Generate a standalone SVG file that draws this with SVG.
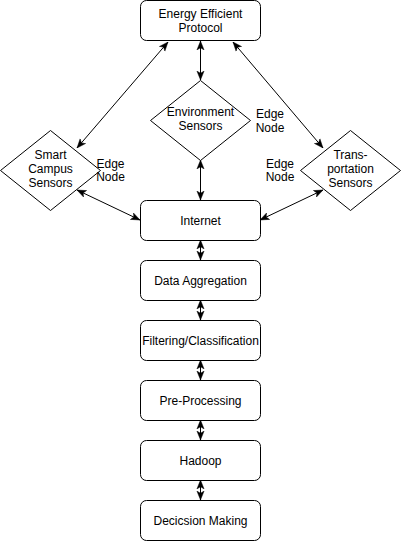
<svg xmlns="http://www.w3.org/2000/svg" width="401" height="541" viewBox="0 0 401 541">
<style>
.box{fill:#fff;stroke:#000;stroke-width:1}
.dia{fill:#fff;stroke:#000;stroke-width:1}
text{font-family:"Liberation Sans",Arial,sans-serif;font-size:12px;fill:#000;text-anchor:middle;dominant-baseline:central}
.edge{stroke:#000;stroke-width:1;fill:none;marker-start:url(#arr);marker-end:url(#arr)}
</style>
<defs>
<marker id="arr" viewBox="0 0 10 10" refX="10" refY="5" markerWidth="9" markerHeight="9" markerUnits="userSpaceOnUse" orient="auto-start-reverse">
<path d="M0,1 L10,5 L0,9 L2.5,5 z" fill="#000" stroke="#000" stroke-width="0.5"/>
</marker>
</defs>
<rect width="401" height="541" fill="#fff"/>
<g id="connectors">
<path class="edge" d="M200.5,41 L200.5,80"/>
<path class="edge" d="M168,42 L77,148"/>
<path class="edge" d="M233,42 L323,148"/>
<path class="edge" d="M200.5,160 L200.5,200"/>
<path class="edge" d="M77,190 L140,220"/>
<path class="edge" d="M323,190 L260,220"/>
<path class="edge" d="M200.5,240 L200.5,260"/>
<path class="edge" d="M200.5,300 L200.5,320"/>
<path class="edge" d="M200.5,360 L200.5,380"/>
<path class="edge" d="M200.5,420 L200.5,440"/>
<path class="edge" d="M200.5,480 L200.5,500"/>
</g>
<g id="energy"><rect class="box" x="140.5" y="0.5" width="120" height="40" rx="6"/><text x="200.5" y="14">Energy Efficient</text><text x="200.5" y="28">Protocol</text></g>
<g id="environment"><path class="dia" d="M200.5,80.5 L250.5,120.5 L200.5,160.5 L150.5,120.5 Z"/><text x="200.5" y="112">Environment</text><text x="200.5" y="126">Sensors</text></g>
<g id="smartcampus"><path class="dia" d="M50.5,130.5 L100.5,170.5 L50.5,210.5 L0.5,170.5 Z"/><text x="50.5" y="155">Smart</text><text x="50.5" y="169">Campus</text><text x="50.5" y="183">Sensors</text></g>
<g id="transportation"><path class="dia" d="M350.5,130.5 L400.5,170.5 L350.5,210.5 L300.5,170.5 Z"/><text x="350.5" y="155">Trans-</text><text x="350.5" y="169">portation</text><text x="350.5" y="183">Sensors</text></g>
<g id="label-env"><text x="270" y="114">Edge</text><text x="270" y="128">Node</text></g>
<g id="label-left"><text x="110.5" y="164">Edge</text><text x="110.5" y="177">Node</text></g>
<g id="label-right"><text x="280" y="164">Edge</text><text x="280" y="177">Node</text></g>
<g id="internet"><rect class="box" x="140.5" y="200.5" width="120" height="40" rx="6"/><text x="200.5" y="220.5">Internet</text></g>
<g id="aggregation"><rect class="box" x="140.5" y="260.5" width="120" height="40" rx="6"/><text x="200.5" y="280.5">Data Aggregation</text></g>
<g id="filtering"><rect class="box" x="140.5" y="320.5" width="120" height="40" rx="6"/><text x="200.5" y="340.5">Filtering/Classification</text></g>
<g id="preprocessing"><rect class="box" x="140.5" y="380.5" width="120" height="40" rx="6"/><text x="200.5" y="400.5">Pre-Processing</text></g>
<g id="hadoop"><rect class="box" x="140.5" y="440.5" width="120" height="40" rx="6"/><text x="200.5" y="460.5">Hadoop</text></g>
<g id="decision"><rect class="box" x="140.5" y="500.5" width="120" height="40" rx="6"/><text x="200.5" y="520.5">Decicsion Making</text></g>
</svg>
